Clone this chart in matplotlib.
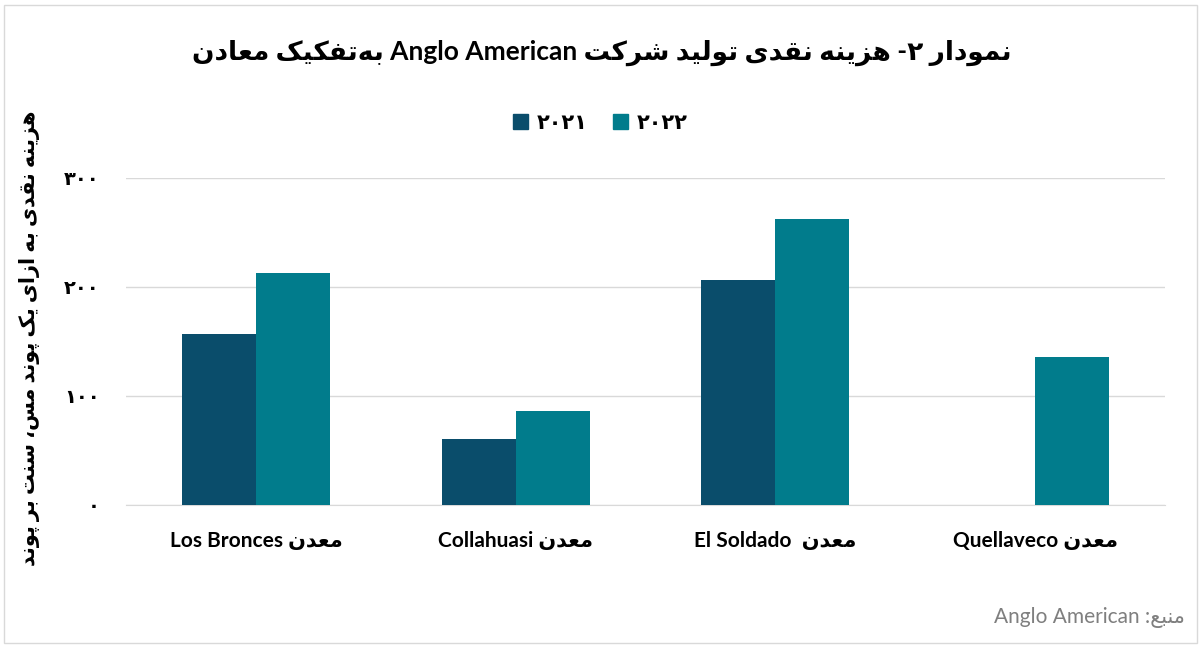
import numpy as np
import matplotlib
matplotlib.use('Agg')
import matplotlib.pyplot as plt
from matplotlib.patches import Rectangle, Patch

# ------------- data -------------- #
mines = ['معدن Los Bronces', 'معدن Collahuasi', 'معدن  El Soldado', 'معدن Quellaveco']
years = ['۲۰۲۱', '۲۰۲۲']
cost_2021 = [157, 61, 206, 0]
cost_2022 = [213, 86, 262, 136]
yticks = [0, 100, 200, 300]
ytick_labels = ['۰', '۱۰۰', '۲۰۰', '۳۰۰']

title = 'نمودار ۲- هزینه نقدی تولید شرکت Anglo American به\u200cتفکیک معادن'
ylabel = 'هزینه نقدی به ازای یک پوند مس، سنت بر پوند'
source = 'منبع: Anglo American'

colors = ['#0A4D6B', '#017C8C']
grid_color = '#D9D9D9'
fonts = ['Lato', 'DejaVu Sans']

# ----------- persian shaping helpers ----------- #
# isolated, final, initial, medial
FORMS = {
    'ا': (0xFE8D, 0xFE8E, None, None),
    'ب': (0xFE8F, 0xFE90, 0xFE91, 0xFE92),
    'پ': (0xFB56, 0xFB57, 0xFB58, 0xFB59),
    'ت': (0xFE95, 0xFE96, 0xFE97, 0xFE98),
    'ج': (0xFE9D, 0xFE9E, 0xFE9F, 0xFEA0),
    'د': (0xFEA9, 0xFEAA, None, None),
    'ر': (0xFEAD, 0xFEAE, None, None),
    'ز': (0xFEAF, 0xFEB0, None, None),
    'س': (0xFEB1, 0xFEB2, 0xFEB3, 0xFEB4),
    'ش': (0xFEB5, 0xFEB6, 0xFEB7, 0xFEB8),
    'ع': (0xFEC9, 0xFECA, 0xFECB, 0xFECC),
    'ف': (0xFED1, 0xFED2, 0xFED3, 0xFED4),
    'ق': (0xFED5, 0xFED6, 0xFED7, 0xFED8),
    'ک': (0xFB8E, 0xFB8F, 0xFB90, 0xFB91),
    'ل': (0xFEDD, 0xFEDE, 0xFEDF, 0xFEE0),
    'م': (0xFEE1, 0xFEE2, 0xFEE3, 0xFEE4),
    'ن': (0xFEE5, 0xFEE6, 0xFEE7, 0xFEE8),
    'ه': (0xFEE9, 0xFEEA, 0xFEEB, 0xFEEC),
    'و': (0xFEED, 0xFEEE, None, None),
    'ی': (0xFBFC, 0xFBFD, 0xFBFE, 0xFBFF),
}


def joins_next(c):
    return c in FORMS and FORMS[c][2] is not None


def shape(text):
    out = []
    for i, c in enumerate(text):
        if c not in FORMS:
            if c != '\u200c':
                out.append(c)
            continue
        prev = text[i - 1] if i > 0 else ''
        nxt = text[i + 1] if i + 1 < len(text) else ''
        p = joins_next(prev)
        n = joins_next(c) and nxt in FORMS
        iso, fin, ini, med = FORMS[c]
        if p and n:
            code = med
        elif p:
            code = fin
        elif n:
            code = ini
        else:
            code = iso
        out.append(chr(code))
    return ''.join(out)


def char_type(c):
    o = ord(c)
    if 0x06F0 <= o <= 0x06F9:
        return 'EN'
    if 0x0600 <= o <= 0x06FF or 0xFB50 <= o <= 0xFDFF or 0xFE70 <= o <= 0xFEFF:
        return 'R'
    if c.isalnum():
        return 'L'
    return 'N'


def visual(text):
    # tiny bidi for a right-to-left paragraph
    types = [char_type(c) for c in text]
    strong = ['R' if t == 'EN' else t for t in types]
    n = len(text)
    for i in range(n):
        if strong[i] != 'N':
            continue
        j = i
        while j < n and strong[j] == 'N':
            j += 1
        before = strong[i - 1] if i > 0 else 'R'
        after = strong[j] if j < n else 'R'
        fill = before if before == after else 'R'
        for k in range(i, j):
            strong[k] = fill
    levels = [2 if (types[i] in ('L', 'EN') or strong[i] == 'L') else 1 for i in range(n)]
    chars = list(text)
    for lev in (2, 1):
        i = 0
        while i < n:
            if levels[i] >= lev:
                j = i
                while j < n and levels[j] >= lev:
                    j += 1
                chars[i:j] = chars[i:j][::-1]
                levels[i:j] = levels[i:j][::-1]
                i = j
            else:
                i += 1
    return ''.join(chars)


def fa(text):
    return visual(shape(text))


# ---------- plot ---------- #
fig = plt.figure(figsize=(12.04, 6.48), dpi=100)
ax = fig.add_axes([126 / 1204, 1 - 505 / 648, 1039 / 1204, 327 / 648])

x = np.arange(len(mines))
w = 0.285
ax.bar(x - w / 2, cost_2021, w, color=colors[0], zorder=3)
ax.bar(x + w / 2, cost_2022, w, color=colors[1], zorder=3)

ax.set_xlim(-0.5, len(mines) - 0.5)
ax.set_ylim(0, 300)
ax.set_yticks(yticks)
ax.set_yticklabels([fa(t) for t in ytick_labels], fontsize=14, fontweight='bold', family=fonts)
ax.set_xticks(x)
ax.set_xticklabels([fa(m) for m in mines], fontsize=15, fontweight='bold', family=fonts)
ax.tick_params(axis='x', length=0, pad=19)
ax.tick_params(axis='y', length=0, pad=19)
ax.grid(axis='y', color=grid_color, linewidth=1, zorder=0)
for side in ['top', 'right', 'left']:
    ax.spines[side].set_visible(False)
ax.spines['bottom'].set_color(grid_color)

fig.text(0.5, 1 - 53 / 648, fa(title), ha='center', va='center',
         fontsize=19, fontweight='bold', family=fonts)
fig.text(30 / 1204, 1 - 338 / 648, fa(ylabel), ha='center', va='center', rotation=90,
         fontsize=15, fontweight='bold', family=fonts)
fig.text(1185 / 1204, 1 - 617 / 648, fa(source), ha='right', va='center',
         fontsize=15, color='#7F7F7F', family=fonts)

handles = [Patch(color=colors[i], label=fa(years[i])) for i in range(2)]
fig.legend(handles=handles, loc='center', bbox_to_anchor=(600 / 1204, 1 - 123 / 648),
           ncol=2, frameon=False, handlelength=0.75, handleheight=0.75,
           handletextpad=0.4, columnspacing=1.2,
           prop={'size': 15, 'weight': 'bold', 'family': fonts})

fig.patches.append(Rectangle((4 / 1204, 5 / 648), 1193 / 1204, 638 / 648,
                             transform=fig.transFigure, fill=False,
                             edgecolor=grid_color, linewidth=1))

fig.savefig('out.png', dpi=100, facecolor='white')
